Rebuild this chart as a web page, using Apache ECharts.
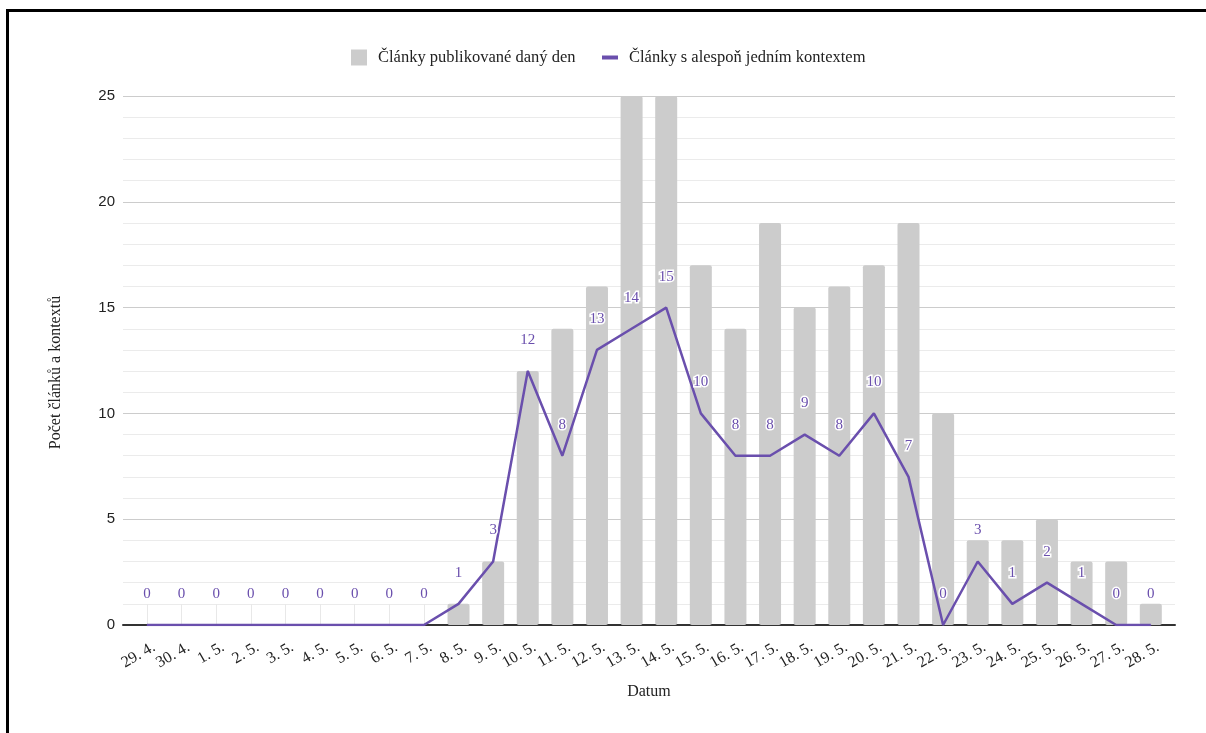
<!DOCTYPE html>
<html>
<head>
<meta charset="utf-8">
<script src="https://cdn.jsdelivr.net/npm/echarts@6/dist/echarts.min.js"></script>
<style>
  html, body { margin: 0; padding: 0; background: #fff; overflow: hidden; }
  #frame { position: absolute; left: 6px; top: 9px; width: 1400px; height: 900px; border: 3px solid #000; box-sizing: border-box; }
  #chart { position: absolute; left: 0; top: 0; width: 1206px; height: 733px; }
</style>
</head>
<body>
<div id="frame"></div>
<div id="chart"></div>
<script>
const categories = ['29. 4.', '30. 4.', '1. 5.', '2. 5.', '3. 5.', '4. 5.', '5. 5.', '6. 5.', '7. 5.', '8. 5.',
  '9. 5.', '10. 5.', '11. 5.', '12. 5.', '13. 5.', '14. 5.', '15. 5.', '16. 5.', '17. 5.', '18. 5.',
  '19. 5.', '20. 5.', '21. 5.', '22. 5.', '23. 5.', '24. 5.', '25. 5.', '26. 5.', '27. 5.', '28. 5.'];
const articlesPublished = [0, 0, 0, 0, 0, 0, 0, 0, 0, 1,
  3, 12, 14, 16, 25, 25, 17, 14, 19, 15,
  16, 17, 19, 10, 4, 4, 5, 3, 3, 1];
const articlesWithContext = [0, 0, 0, 0, 0, 0, 0, 0, 0, 1,
  3, 12, 8, 13, 14, 15, 10, 8, 8, 9,
  8, 10, 7, 0, 3, 1, 2, 1, 0, 0];
const seriesNames = ['Články publikované daný den', 'Články s alespoň jedním kontextem'];
const yTitle = 'Počet článků a kontextů';
const xTitle = 'Datum';

const serif = '"Liberation Serif", "DejaVu Serif", serif';
const sans = '"Liberation Sans", Arial, sans-serif';
const purple = '#6a4fad';

const chart = echarts.init(document.getElementById('chart'), null, { renderer: 'canvas' });
chart.setOption({
  animation: false,
  legend: [
    {
      data: [{ name: seriesNames[0], icon: 'rect' }],
      left: 351, top: 49, padding: 0, itemWidth: 16, itemHeight: 16,
      textStyle: { fontFamily: serif, fontSize: 16.5, color: '#222', padding: [0, 0, 0, 6] }
    },
    {
      data: [{ name: seriesNames[1], icon: 'rect' }],
      left: 602, top: 49, padding: 0, itemWidth: 16, itemHeight: 4,
      textStyle: { fontFamily: serif, fontSize: 16.5, color: '#222', padding: [0, 0, 0, 6] }
    }
  ],
  grid: [
    { left: 123, right: 31, top: 96, bottom: 108 },
    { left: 129.7, right: 37.9, top: 96, bottom: 108 },
    { left: 136.7, right: 30.9, top: 96, bottom: 108 }
  ],
  xAxis: [
    {
      gridIndex: 0, type: 'value', min: 0, max: 1,
      axisLine: { show: true, lineStyle: { color: '#333', width: 2 } },
      axisTick: { show: false }, axisLabel: { show: false }, splitLine: { show: false }
    },
    {
      gridIndex: 1, type: 'category', data: categories, boundaryGap: true,
      axisLine: { show: false },
      axisTick: { show: true, inside: true, alignWithLabel: true, interval: 0, length: 21, lineStyle: { color: '#e8e8e8' } },
      axisLabel: { show: false },
      name: xTitle, nameLocation: 'middle', nameGap: 59,
      nameTextStyle: { fontFamily: serif, fontSize: 16, color: '#222' }
    },
    {
      gridIndex: 2, type: 'category', data: categories, boundaryGap: true,
      axisLine: { show: false }, axisTick: { show: false }, splitLine: { show: false },
      axisLabel: { rotate: 30, margin: 21, interval: 0, fontFamily: serif, fontSize: 16, color: '#222' }
    }
  ],
  yAxis: [
    {
      gridIndex: 0, type: 'value', min: 0, max: 25, interval: 5,
      axisLine: { show: false }, axisTick: { show: false },
      axisLabel: { margin: 8, fontFamily: sans, fontSize: 15, color: '#222' },
      splitLine: { show: true, lineStyle: { color: '#cccccc', width: 1 } },
      minorTick: { show: false, splitNumber: 5 },
      minorSplitLine: { show: true, lineStyle: { color: '#ebebeb', width: 1 } },
      name: yTitle, nameLocation: 'middle', nameGap: 59,
      nameTextStyle: { fontFamily: serif, fontSize: 16, color: '#222', padding: [0, 24, 0, 0] }
    },
    { gridIndex: 1, type: 'value', min: 0, max: 25, show: false },
    { gridIndex: 2, type: 'value', min: 0, max: 25, show: false }
  ],
  series: [
    {
      name: seriesNames[0], type: 'bar', xAxisIndex: 1, yAxisIndex: 1,
      data: articlesPublished, barWidth: 22,
      itemStyle: { color: '#cccccc', borderRadius: 2 }
    },
    {
      name: seriesNames[1], type: 'line', xAxisIndex: 1, yAxisIndex: 1,
      data: articlesWithContext, showSymbol: true, symbol: 'circle', symbolSize: 1,
      lineStyle: { color: purple, width: 2.5 }, itemStyle: { color: purple },
      label: {
        show: true, position: 'top', distance: 23,
        fontFamily: serif, fontSize: 15, color: purple,
        textBorderColor: '#fff', textBorderWidth: 3
      }
    }
  ]
});
</script>
</body>
</html>
